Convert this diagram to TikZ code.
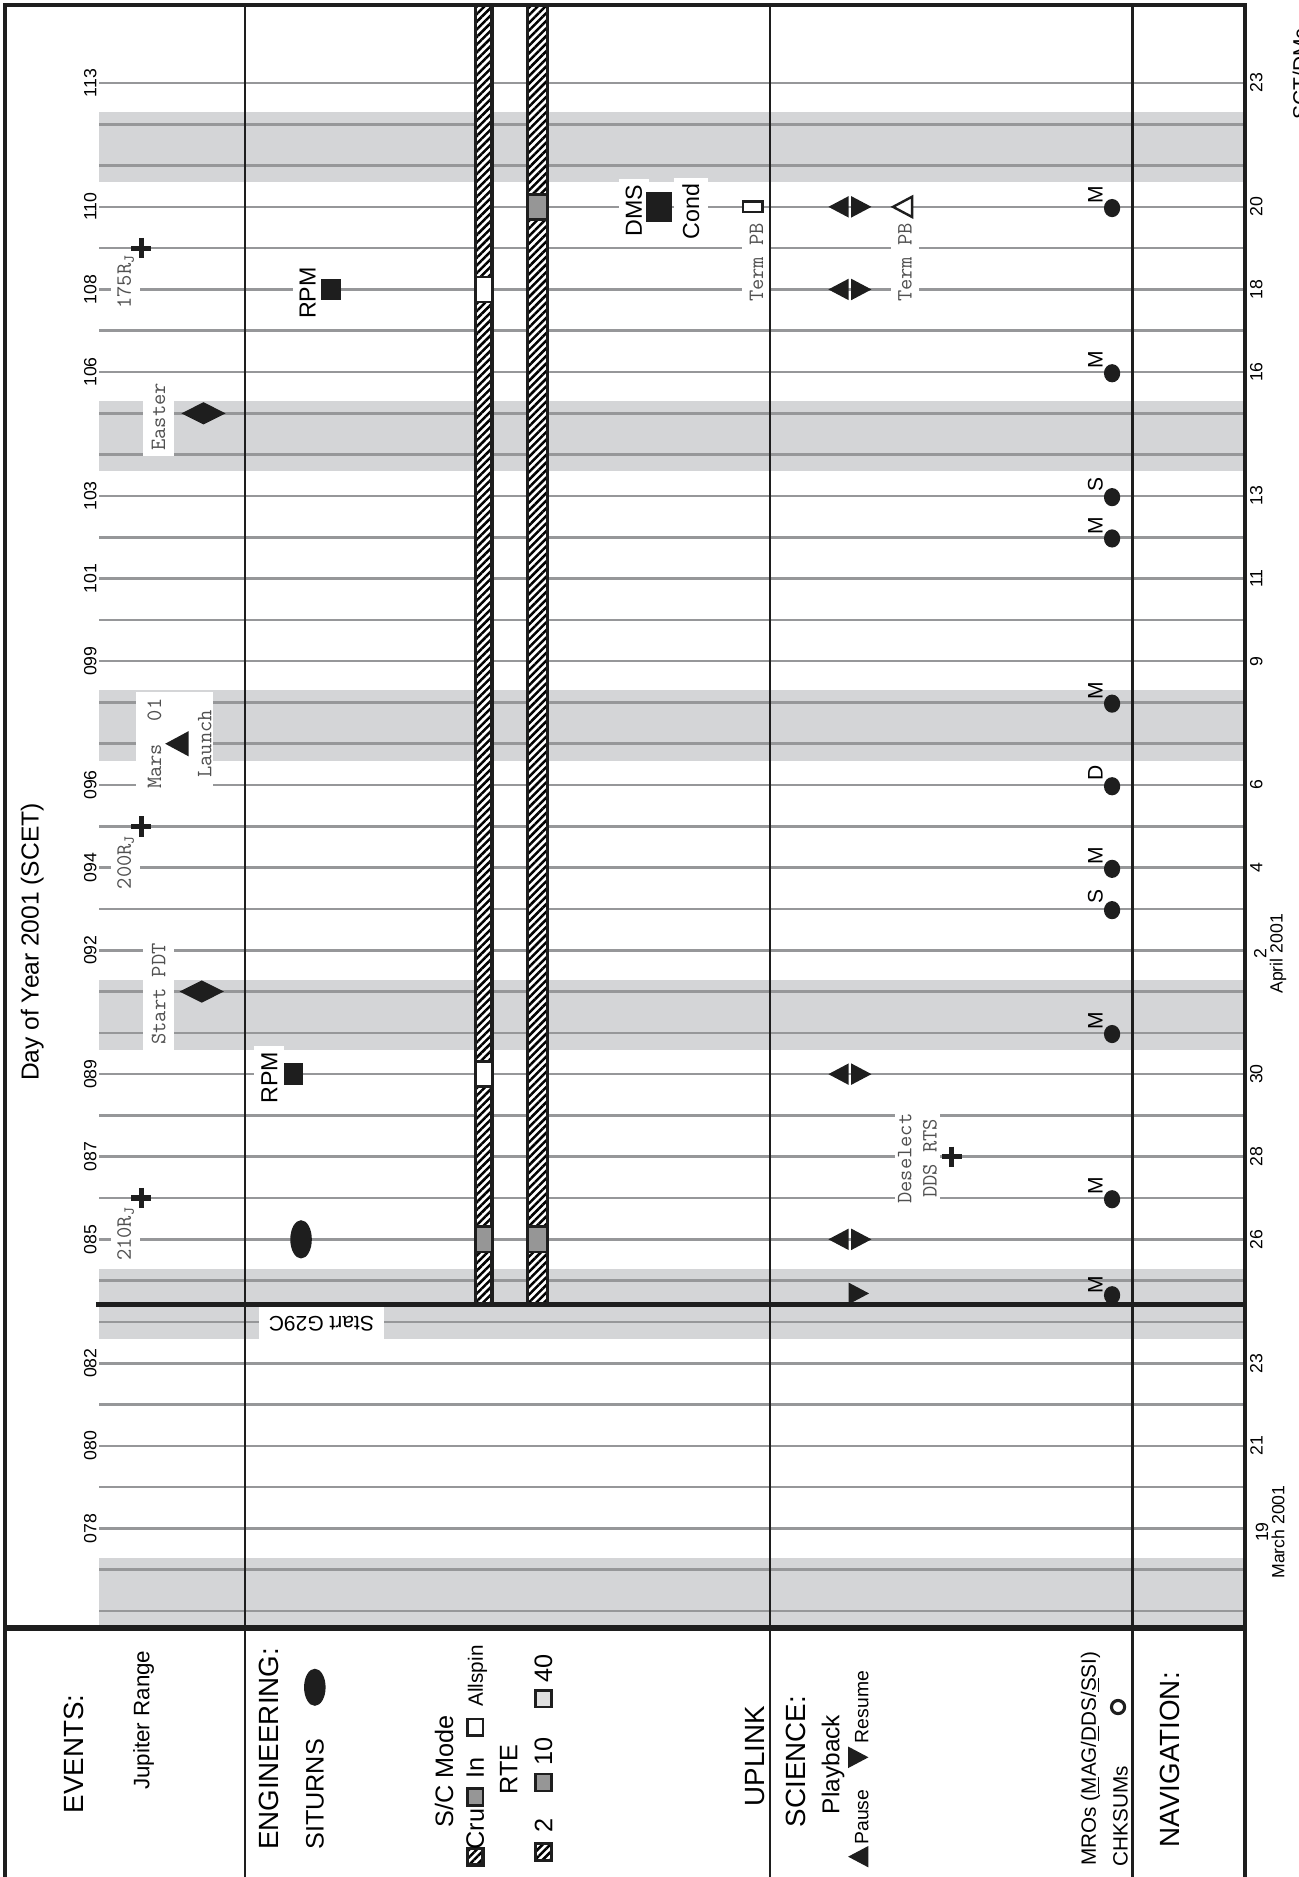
\documentclass[tikz,border=0pt]{standalone}
\usepackage{fontspec}
\setmainfont{Liberation Sans}
\usetikzlibrary{patterns.meta, positioning}

\definecolor{bandgray}{RGB}{212,213,215}
\definecolor{linegray}{RGB}{150,151,153}
\definecolor{boxgray}{RGB}{150,150,150}
\definecolor{lightbox}{RGB}{224,224,224}
\definecolor{monogray}{RGB}{80,80,80}
\definecolor{ink}{RGB}{30,30,30}

\begin{document}
\begin{tikzpicture}[x=0.25mm, y=-0.25mm,
        declare function={dy(\x)=1276.8-(\x-78)*34.5;}]
        % 定义样式
        \tikzstyle{dayline} = [draw=linegray, line width=0.55mm]
        \tikzstyle{weekend} = [fill=bandgray]
        \tikzstyle{divider} = [draw=ink, line width=0.45mm]
        \tikzstyle{outerframe} = [draw=ink, line width=0.85mm]
        \tikzstyle{modebar} = [draw=ink, line width=0.65mm, preaction={fill=white}, pattern={Lines[angle=45, distance=3.2pt, line width=1.5pt]}]
        \tikzstyle{modebox} = [draw=ink, line width=0.55mm]
        \tikzstyle{daynum} = [rotate=90, inner sep=0pt, font=\fontsize{10.5}{12}\selectfont]
        \tikzstyle{datenum} = [rotate=90, inner sep=0pt, align=center, font=\fontsize{10.5}{9.6}\selectfont]
        \tikzstyle{evnote} = [rotate=90, fill=white, inner xsep=1.2mm, inner ysep=0pt, minimum height=6mm, text=monogray, font=\ttfamily\fontsize{13}{15}\selectfont]
        \tikzstyle{evtag} = [rotate=90, fill=white, inner xsep=1.2mm, inner ysep=0pt, minimum height=6.2mm, font=\fontsize{13.8}{16}\selectfont]
        \tikzstyle{leghead} = [rotate=90, inner sep=0pt, font=\fontsize{16.5}{19}\selectfont]
        \tikzstyle{legtext} = [rotate=90, inner sep=0pt, font=\fontsize{15}{18}\selectfont]
        \tikzstyle{legsmall} = [rotate=90, inner sep=0pt, font=\fontsize{12.3}{14}\selectfont]
        \tikzstyle{legtiny} = [rotate=90, inner sep=0pt, font=\fontsize{11.5}{13}\selectfont]
        \tikzstyle{mrotag} = [rotate=90, inner sep=0pt, font=\fontsize{12.5}{14}\selectfont]
        \tikzset{
            jcross/.pic={\draw[ink, line width=1.1mm] (-8.5,0) -- (8.5,0) (0,-8.5) -- (0,8.5);},
            evdiamond/.pic={\fill[ink] (-18.5,0) -- (0,-9.3) -- (18.5,0) -- (0,9.3) -- cycle;},
            pausetri/.pic={\fill[ink] (0,-9) -- (0,9) -- (-17,0) -- cycle;},
            resumetri/.pic={\fill[ink] (0,-9) -- (0,9) -- (17,0) -- cycle;},
            pbpair/.pic={\fill[ink] (-1,-9) -- (-1,9) -- (-18,0) -- cycle;
                         \fill[ink] (1,-9) -- (1,9) -- (18,0) -- cycle;}
        }

        \useasboundingbox (0,0) rectangle (1085,1568);

        % 周末阴影
        \foreach \n in {76,83,90,97,104,111}
            \fill[weekend] (83,{dy(\n+1)-10}) rectangle (1039,{dy(\n)+14});

        % 日期线
        \foreach \n in {76,...,113}
            \draw[dayline] (83,{dy(\n)}) -- (1039,{dy(\n)});

        % S/C 模式与 RTE 条
        \draw[modebar] (397,4) rectangle (411,1090);
        \draw[modebar] (441,4) rectangle (457,1090);
        \draw[modebox, fill=white] (397,{dy(108)-10.5}) rectangle (411,{dy(108)+10.5});
        \draw[modebox, fill=white] (397,{dy(89)-10.5}) rectangle (411,{dy(89)+10.5});
        \draw[modebox, fill=boxgray] (397,{dy(85)-10.5}) rectangle (411,{dy(85)+10.5});
        \draw[modebox, fill=boxgray] (441,{dy(85)-10.5}) rectangle (457,{dy(85)+10.5});
        \draw[modebox, fill=boxgray] (441,{dy(110)-10.5}) rectangle (457,{dy(110)+10.5});

        % 事件
        \node[evnote] (rj175) at (105,{dy(109)+28}) {175R\textsubscript{J}};
        \node[evnote] (rj200) at (105,{dy(95)+30}) {200R\textsubscript{J}};
        \node[evnote] (rj210) at (105,{dy(86)+30}) {210R\textsubscript{J}};
        \pic at (118,{dy(109)}) {jcross};
        \pic at (118,{dy(95)}) {jcross};
        \pic at (118,{dy(86)}) {jcross};
        \node[evnote, minimum height=6.6mm] (easter) at (132.5,{dy(105)+3}) {Easter};
        \pic at (170,{dy(105)}) {evdiamond};
        \node[evnote, minimum height=6.6mm] (startpdt) at (132.5,{dy(91)+2}) {Start PDT};
        \pic at (168.5,{dy(91)}) {evdiamond};
        \node[fill=white, inner sep=0pt, minimum width=16mm, minimum height=19.75mm] (marsbox) at (146,617.5) {};
        \node[evnote, fill=none] (mars) at (129,{dy(97)}) {Mars~~01};
        \node[evnote, fill=none] (launch) at (171,{dy(97)}) {Launch};
        \fill[ink] (157.5,{dy(97)-10.5}) -- (157.5,{dy(97)+10.5}) -- (138,{dy(97)}) -- cycle;

        % 工程
        \fill[ink] (251.5,{dy(85)}) ellipse [x radius=9, y radius=16];
        \node[evtag] (rpm89) at (225,{dy(89)+3}) {RPM};
        \fill[ink] (237,{dy(89)-9}) rectangle (253,{dy(89)+9});
        \node[evtag] (rpm108) at (257,{dy(108)+3}) {RPM};
        \fill[ink] (268,{dy(108)-9}) rectangle (285,{dy(108)+9});
        \node[evtag] (dms) at (529.5,{dy(110)+3}) {DMS};
        \fill[ink] (540,{dy(110)-12.5}) rectangle (561,{dy(110)+12.5});
        \node[evtag, minimum height=7.1mm] (cond) at (577,{dy(110)+4}) {Cond};

        % 上行
        \node[evnote] (termpb1) at (632,{dy(109)+12}) {Term PB};
        \draw[ink, line width=0.45mm, fill=white] (621,{dy(110)-4.5}) rectangle (637,{dy(110)+4.5});

        % 科学
        \foreach \n in {110,108,89,85}
            \pic at (710,{dy(\n)}) {pbpair};
        \pic at (709,1080.5) {resumetri};
        \node[evnote] (termpb2) at (756,{dy(109)+12}) {Term PB};
        \draw[ink, line width=0.5mm, fill=white] (762,{dy(110)-8.5}) -- (762,{dy(110)+8.5}) -- (746,{dy(110)}) -- cycle;
        \node[evnote, align=center, inner ysep=0.6mm] (deselect) at (766.5,{dy(87)+1.5}) {Deselect\\DDS RTS};
        \pic at (795,{dy(87)}) {jcross};
        \foreach \n/\lbl in {110/M,106/M,103/S,102/M,98/M,96/D,94/M,93/S,90/M,86/M} {
            \fill[ink] (929,{dy(\n)+1}) ellipse [x radius=6.8, y radius=7.6];
            \node[mrotag] (mro\n) at (915,{dy(\n)-10}) {\lbl};
        }
        \fill[ink] (929,1082) ellipse [x radius=6.8, y radius=7.6];
        \node[mrotag] (mrog29c) at (915,1073) {M};

        % G29C 起点
        \node[rotate=180, fill=white, inner xsep=2mm, inner ysep=0pt, minimum height=7mm, font=\fontsize{12.5}{14}\selectfont] (g29c) at (268.5,1106) {Start G29C};
        \draw[ink, line width=1mm] (80,1090) -- (1040,1090);

        % 边框与分栏
        \draw[outerframe] (4,1580) -- (4,4) -- (1040,4) -- (1040,1580);
        \draw[ink, line width=1.1mm] (4,1360) -- (1041,1360);
        \foreach \x in {205,643,946}
            \draw[divider] (\x,4) -- (\x,1580);

        % 坐标标注
        \node[rotate=90, inner sep=0pt, font=\fontsize{14.6}{17}\selectfont] (title) at (27,787) {Day of Year 2001 (SCET)};
        \foreach \n/\lbl in {78/078,80/080,82/082,85/085,87/087,89/089,92/092,94/094,96/096,99/099,101/101,103/103,106/106,108/108,110/110,113/113}
            \node[daynum] (doy\n) at (75.5,{dy(\n)}) {\lbl};
        \foreach \n/\lbl in {80/21,82/23,85/26,87/28,89/30,94/4,96/6,99/9,101/11,103/13,106/16,108/18,110/20,113/23}
            \node[daynum] (dom\n) at (1049.5,{dy(\n)}) {\lbl};
        \node[datenum] (mar19) at (1061,{dy(78)+3}) {19\\March 2001};
        \node[datenum] (apr2) at (1061,{dy(92)+3}) {2\\April 2001};
        \node[rotate=90, anchor=base, inner sep=0pt, font=\fontsize{12.5}{14}\selectfont] (sctdmc) at (1092.5,62) {SCT/DMc};

        % 图例
        \node[leghead] (evhead) at (61.5,1465) {EVENTS:};
        \node[rotate=90, inner sep=0pt, font=\fontsize{13.3}{15}\selectfont] (jrange) at (120,1437) {Jupiter Range};
        \node[leghead] (enghead) at (225,1461) {ENGINEERING:};
        \fill[ink] (263,1409.5) ellipse [x radius=9, y radius=15.5];
        \node[legtext] (siturns) at (263,1499) {SITURNS};
        \node[legtext] (scmode) at (371,1480) {S/C Mode};
        \draw[modebar] (390.5,1544) rectangle (403.5,1558);
        \node[legtext] (cru) at (397,1528) {Cru};
        \draw[modebox, fill=boxgray] (390.5,1494) rectangle (403.5,1508);
        \node[legtext] (inmode) at (397,1477) {In};
        \draw[modebox, fill=white] (390.5,1436) rectangle (403.5,1450);
        \node[legsmall] (allspin) at (399,1400) {Allspin};
        \node[legtext] (rte) at (425,1478) {RTE};
        \draw[modebar] (447.5,1540) rectangle (460.5,1554);
        \node[legtext] (rte2) at (454,1525) {2};
        \draw[modebox, fill=boxgray] (447.5,1482) rectangle (460.5,1496);
        \node[legtext] (rte10) at (454,1463) {10};
        \draw[modebox, fill=lightbox] (447.5,1412) rectangle (460.5,1426);
        \node[legtext] (rte40) at (454,1394) {40};
        \node[leghead] (uplink) at (631,1467) {UPLINK};
        \node[leghead] (scihead) at (665,1471.5) {SCIENCE:};
        \node[rotate=90, inner sep=0pt, font=\fontsize{14.5}{17}\selectfont] (playback) at (696,1474) {Playback};
        \pic at (725.5,1551) {pausetri};
        \node[legtiny] (pause) at (720,1518) {Pause};
        \pic at (708.5,1468) {resumetri};
        \node[legtiny] (resume) at (720,1426) {Resume};
        \node[legsmall] (mros) at (911,1469) {MROs (\underline{M}AG/\underline{D}DS/\underline{S}SI)};
        \draw[ink, line width=0.65mm] (934,1426) circle [radius=5.5];
        \node[legsmall] (chksums) at (936,1517) {CHKSUMs};
        \node[leghead] (navhead) at (977,1470) {NAVIGATION:};
\end{tikzpicture}
\end{document}
